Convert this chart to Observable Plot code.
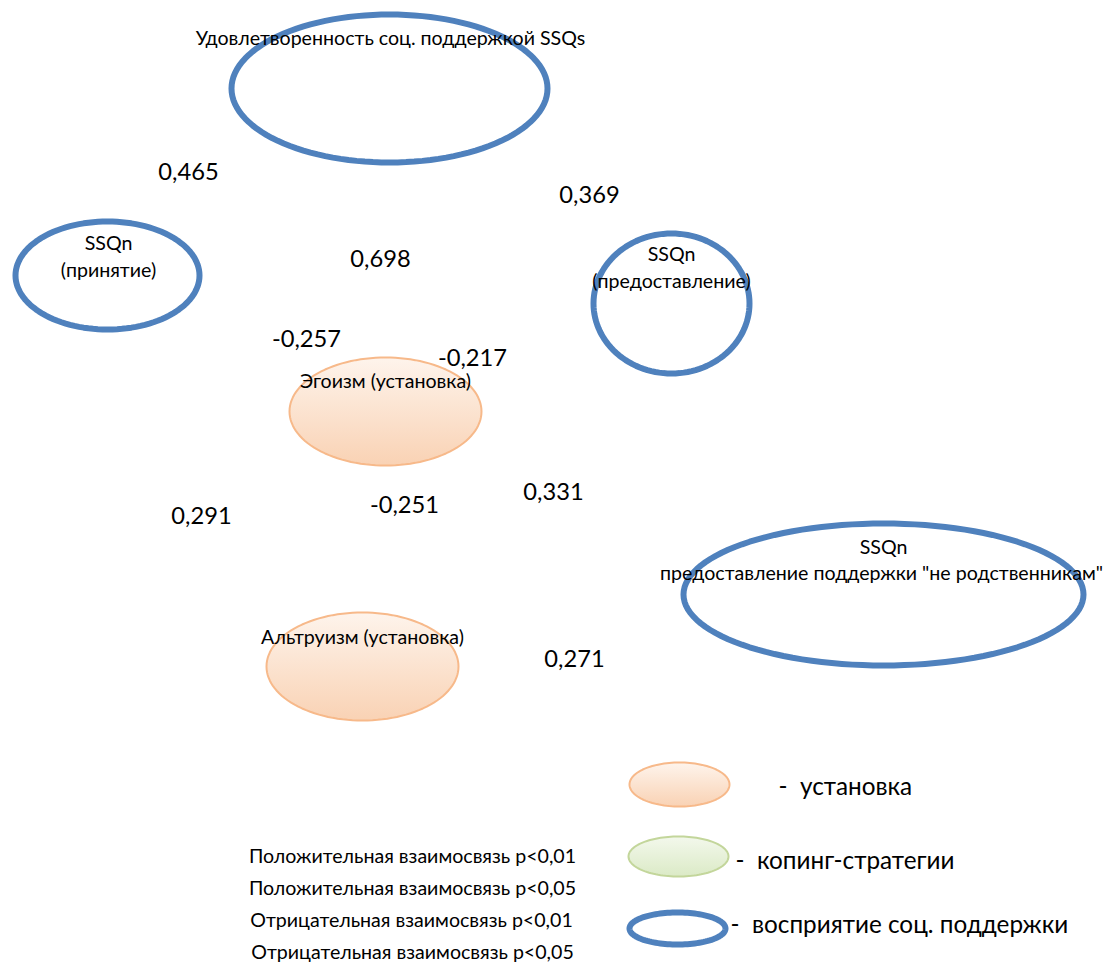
<!DOCTYPE html>
<html><head><meta charset="utf-8">
<script src="https://cdn.jsdelivr.net/npm/d3@7"></script>
<script src="https://cdn.jsdelivr.net/npm/@observablehq/plot@0.6"></script>
<style>body{margin:0;background:#fff;} svg{display:block;}</style>
</head><body><div id="chart"></div>
<script>
// Nodes of the diagram (ellipses)
const nodeIds   = ["ssqs", "accept", "provide", "ego", "altru", "nonrel", "legOrange", "legGreen", "legBlue"];
const nodeKinds = ["blue", "blue", "blue", "orange", "orange", "blue", "orange", "green", "blue"];
const nodeX  = [389, 107, 671, 385, 362, 883, 679, 678, 677];
const nodeY  = [88, 275, 303, 411, 666, 594, 784, 856, 928];
const nodeRX = [158, 92, 78, 96, 96, 200, 50, 50, 48];
const nodeRY = [74, 54, 70, 54, 54, 71, 22, 20, 16];

// Node labels
const labelText = ["Удовлетворенность соц. поддержкой SSQs", "SSQn", "(принятие)", "SSQn", "(предоставление)",
  "Эгоизм (установка)", "Альтруизм (установка)", "SSQn", "предоставление поддержки \"не родственникам\""];
const labelX = [390, 108, 108, 671, 671, 385, 362, 883, 881];
const labelY = [38, 243, 270, 254, 281, 381, 637, 547, 573];

// Correlation coefficients
const coefText = ["0,465", "0,369", "0,698", "-0,257", "-0,217", "0,291", "-0,251", "0,331", "0,271"];
const coefX = [188, 589, 380, 306, 472, 201, 404, 553, 574];
const coefY = [172, 195, 259, 339, 358, 516, 505, 492, 659];

// Legend texts
const legendKindText = ["-  установка", "-  копинг-стратегии", "-  восприятие соц. поддержки"];
const legendKindX = [778, 735, 730];
const legendKindY = [787, 861, 925];
const legendRelText = ["Положительная взаимосвязь p<0,01", "Положительная взаимосвязь p<0,05",
  "Отрицательная взаимосвязь p<0,01", "Отрицательная взаимосвязь p<0,05"];
const legendRelX = [412, 412, 411, 412];
const legendRelY = [856, 888, 920, 952];

const styles = {
  blue:   {stroke: "#4f81bd", fill: "none", strokeWidth: 6},
  orange: {stroke: "#f7b98a", fill: "url(#gradOrange)", strokeWidth: 2},
  green:  {stroke: "#c3d69b", fill: "url(#gradGreen)", strokeWidth: 2}
};

function ellipsePoints(i) {
  const pts = [];
  const n = 120;
  for (let k = 0; k < n; k++) {
    const t = 2 * Math.PI * k / n;
    pts.push({id: nodeIds[i], x: nodeX[i] + nodeRX[i] * Math.cos(t), y: nodeY[i] + nodeRY[i] * Math.sin(t)});
  }
  return pts;
}

const ellipseMarks = nodeIds.map((id, i) => Plot.line(ellipsePoints(i), {
  x: "x", y: "y", curve: "linear-closed", ...styles[nodeKinds[i]]
}));

const labels = labelText.map((t, i) => ({t, x: labelX[i], y: labelY[i]}));
const coefs = coefText.map((t, i) => ({t, x: coefX[i], y: coefY[i]}));
const legK = legendKindText.map((t, i) => ({t, x: legendKindX[i], y: legendKindY[i]}));
const legR = legendRelText.map((t, i) => ({t, x: legendRelX[i], y: legendRelY[i]}));

const chart = Plot.plot({
  width: 1107, height: 965, margin: 0,
  style: {fontFamily: "Lato, sans-serif", background: "#fff"},
  x: {domain: [0, 1107], range: [0, 1107], axis: null},
  y: {domain: [0, 965], range: [0, 965], axis: null},
  marks: [
    ...ellipseMarks,
    Plot.text(labels, {x: "x", y: "y", text: "t", fontSize: 19.6, fill: "#000"}),
    Plot.text(coefs, {x: "x", y: "y", text: "t", fontSize: 23.7, fill: "#000"}),
    Plot.text(legK, {x: "x", y: "y", text: "t", fontSize: 24.3, fill: "#000", textAnchor: "start"}),
    Plot.text(legR, {x: "x", y: "y", text: "t", fontSize: 19.6, fill: "#000"})
  ]
});

const defs = d3.select(chart).insert("defs", ":first-child");
const g1 = defs.append("linearGradient").attr("id", "gradOrange").attr("x1", 0).attr("y1", 0).attr("x2", 0).attr("y2", 1);
g1.append("stop").attr("offset", "0%").attr("stop-color", "#fef4ec");
g1.append("stop").attr("offset", "100%").attr("stop-color", "#f9d2b4");
const g2 = defs.append("linearGradient").attr("id", "gradGreen").attr("x1", 0).attr("y1", 0).attr("x2", 0).attr("y2", 1);
g2.append("stop").attr("offset", "0%").attr("stop-color", "#f3f8ec");
g2.append("stop").attr("offset", "100%").attr("stop-color", "#dbeac6");

document.getElementById("chart").appendChild(chart);
</script></body></html>
